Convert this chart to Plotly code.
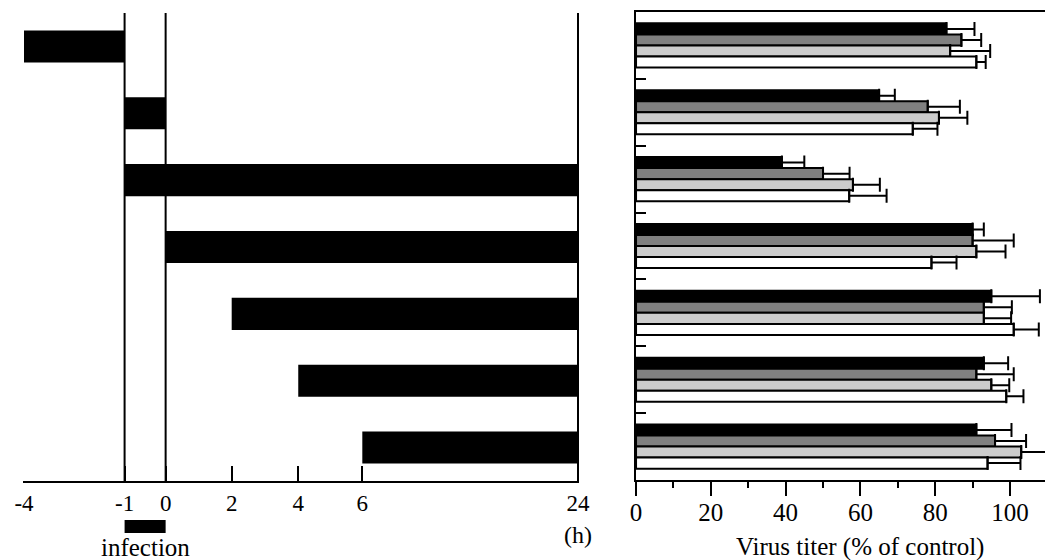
import numpy as np
import plotly.graph_objects as go

# ---------------- data ----------------
# left panel: treatment periods (hours relative to infection)
treat_start = [-4, -1, -1, 0, 2, 4, 6]
treat_end = [-1, 0, 24, 24, 24, 24, 24]
infection_period = [-1, 0]

tick_hours = [-4, -1, 0, 2, 4, 6, 24]
tick_labels = ["-4", "-1", "0", "2", "4", "6", "24"]

# right panel: virus titer (% of control), 4 series per treatment row
series_names = ["s1", "s2", "s3", "s4"]
black_vals = [83, 65, 39, 90, 95, 93, 91]
black_err = [7.5, 4.2, 6.0, 3.0, 13.0, 6.5, 9.4]
dgray_vals = [87, 78, 50, 90, 93, 91, 96]
dgray_err = [5.3, 8.6, 7.1, 11.0, 7.5, 10.0, 8.3]
lgray_vals = [84, 81, 58, 91, 93, 95, 103]
lgray_err = [10.7, 7.6, 7.2, 7.8, 7.3, 4.8, 10.0]
white_vals = [91, 74, 57, 79, 101, 99, 94]
white_err = [2.5, 6.6, 10.0, 6.7, 6.7, 4.6, 8.8]

rows = list(range(7))

# ---------------- layout helpers ----------------
axis_pos = [0, 100.5, 141.5, 207.5, 274, 338, 553.5]  # display positions of tick_hours (broken axis)


def hpos(h):
    return np.interp(h, tick_hours, axis_pos)


OFF = 8                 # page body margin
W, H = 1053 - OFF, 560 - OFF
FONT = "Liberation Serif"


def PX(x):  # screen x pixel -> paper fraction
    return (x - OFF) / W


def PY(y):  # screen y pixel -> paper fraction
    return 1 - (y - OFF) / H


fig = go.Figure()

# left panel bars
s = hpos(treat_start)
e = hpos(treat_end)
fig.add_trace(go.Bar(
    y=rows, x=e - s, base=s, orientation="h", width=0.48,
    marker=dict(color="black", line=dict(width=0)),
    xaxis="x", yaxis="y", showlegend=False, hoverinfo="skip",
))

# right panel bars
colors = ["#000000", "#808080", "#cccccc", "#ffffff"]
vals = [black_vals, dgray_vals, lgray_vals, white_vals]
errs = [black_err, dgray_err, lgray_err, white_err]
for name, c, v, er in zip(series_names, colors, vals, errs):
    fig.add_trace(go.Bar(
        y=rows, x=v, orientation="h", name=name,
        marker=dict(color=c, line=dict(color="black", width=2)),
        error_x=dict(type="data", array=er, arrayminus=[0] * len(er), symmetric=False,
                     color="black", thickness=2, width=7),
        xaxis="x2", yaxis="y2", showlegend=False, hoverinfo="skip",
    ))

# vertical reference lines in left panel
for h in [-1, 0, 24]:
    fig.add_shape(type="line", xref="x", yref="y domain", x0=hpos(h), x1=hpos(h),
                  y0=0, y1=1, line=dict(color="black", width=2))

# infection bar under axis
fig.add_shape(type="rect", xref="x", yref="paper",
              x0=hpos(infection_period[0]), x1=hpos(infection_period[1]),
              y0=PY(533), y1=PY(520), fillcolor="black", line=dict(width=0))

fig.add_annotation(x=float(hpos(np.mean(infection_period))), y=PY(547), xref="x", yref="paper",
                   text="infection", showarrow=False, font=dict(family=FONT, size=25, color="black"),
                   xanchor="center", yanchor="middle")
fig.add_annotation(x=float(hpos(24)), y=PY(535), xref="x", yref="paper",
                   text="(h)", showarrow=False, font=dict(family=FONT, size=24, color="black"),
                   xanchor="center", yanchor="middle")
fig.add_annotation(x=PX(860), y=PY(547), xref="paper", yref="paper",
                   text="Virus titer (% of control)", showarrow=False,
                   font=dict(family=FONT, size=25, color="black"),
                   xanchor="center", yanchor="middle")

fig.update_layout(
    template="none",
    width=W, height=H, margin=dict(l=0, r=0, t=0, b=0, pad=0), autosize=False,
    paper_bgcolor="white", plot_bgcolor="white",
    barmode="group", bargap=0.34, bargroupgap=0,
    font=dict(family=FONT, color="black"),
    xaxis=dict(domain=[PX(23), PX(579)], range=[-1, 554.5], showgrid=False, zeroline=False,
               automargin=False,
               showline=True, linecolor="black", linewidth=2,
               tickmode="array", tickvals=axis_pos, ticktext=tick_labels,
               ticks="inside", ticklen=15, tickwidth=2, tickcolor="black",
               tickfont=dict(family=FONT, size=23, color="black"), anchor="y"),
    yaxis=dict(domain=[PY(481), PY(13)], range=[6.5, -0.5], showgrid=False, automargin=False,
               zeroline=False, showline=False, showticklabels=False, ticks="", anchor="x"),
    xaxis2=dict(domain=[PX(636), 1], range=[-0.01, 111.5], showgrid=False, zeroline=False,
                automargin=False,
                showline=True, linecolor="black", linewidth=2, mirror=True,
                tickmode="linear", tick0=0, dtick=20,
                ticks="outside", ticklen=14, tickwidth=2, tickcolor="black",
                ticklabelstandoff=-5,
                minor=dict(dtick=10, ticks="outside", ticklen=6, tickwidth=2, tickcolor="black",
                           showgrid=False),
                tickfont=dict(family=FONT, size=25, color="black"), anchor="y2"),
    yaxis2=dict(domain=[PY(480), PY(12)], range=[6.5, -0.5], showgrid=False, automargin=False,
                zeroline=False, showline=True, linecolor="black", linewidth=2,
                tickmode="array", tickvals=[0.5, 1.5, 2.5, 3.5, 4.5, 5.5],
                ticks="inside", ticklen=10, tickwidth=2, tickcolor="black",
                showticklabels=False, anchor="x2"),
)

fig.write_html("out.html")
